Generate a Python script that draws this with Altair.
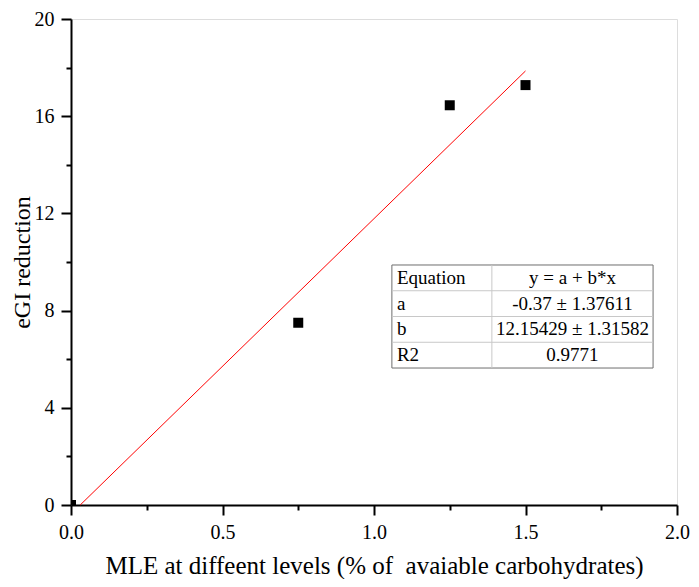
import altair as alt
import pandas as pd

# ---- data ----
x_vals = [0.0, 0.75, 1.25, 1.5]
y_vals = [0.0, 7.5, 16.45, 17.28]

fit_a = -0.37
fit_b = 12.15429
fit_x = [0.0304, 1.5]

table_labels = ["Equation", "a", "b", "R2"]
table_values = ["y = a + b*x", "-0.37 ± 1.37611", "12.15429 ± 1.31582", "0.9771"]

x_major = [0.0, 0.5, 1.0, 1.5, 2.0]
x_minor = [0.25, 0.75, 1.25, 1.75]
y_major = [0, 4, 8, 12, 16, 20]
y_minor = [2, 6, 10, 14, 18]

x_title = "MLE at diffeent levels (% of \u00a0avaiable carbohydrates)"
y_title = "eGI reduction"

FONT = "Liberation Serif"

# table placement (data units)
T_X0, T_XM, T_X1 = 1.059, 1.389, 1.921
T_Y0, ROW_H = 9.877, 1.06

pts = pd.DataFrame({"x": x_vals, "y": y_vals})
fit = pd.DataFrame({"x": fit_x})
tbl = pd.DataFrame({"label": table_labels, "value": table_values,
                    "row": list(range(len(table_labels)))})

xscale = alt.Scale(domain=[0, 2], nice=False, zero=False)
yscale = alt.Scale(domain=[0, 20], nice=False, zero=False)

axis_common = dict(grid=False, domainColor="black", tickColor="black",
                   domainWidth=2, tickWidth=2, labelColor="black",
                   titleColor="black", labelFont=FONT, titleFont=FONT,
                   labelFontSize=20, titleFontWeight="normal", labelFlush=False)

points = alt.Chart(pts).mark_square(size=100, color="black", opacity=1, clip=True).encode(
    x=alt.X("x:Q", scale=xscale,
            axis=alt.Axis(values=x_major, format=".1f", tickSize=10, labelPadding=7,
                          title=x_title, titleFontSize=25,
                          titlePadding=11, orient="bottom", **axis_common)),
    y=alt.Y("y:Q", scale=yscale,
            axis=alt.Axis(values=y_major, format="d", tickSize=10, labelPadding=7,
                          title=y_title, titleFontSize=24, titlePadding=0,
                          orient="left", **axis_common)),
)

line = alt.Chart(fit).transform_calculate(
    y=f"{fit_a} + {fit_b} * datum.x"
).mark_line(color="red", strokeWidth=1).encode(
    x=alt.X("x:Q", scale=xscale,
            axis=alt.Axis(values=x_minor, labels=False, domain=False, tickSize=5,
                          title="", orient="bottom", **axis_common)),
    y=alt.Y("y:Q", scale=yscale,
            axis=alt.Axis(values=y_minor, labels=False, domain=False, tickSize=5,
                          title="", orient="left", **axis_common)),
)

box = alt.Chart(tbl).transform_filter("datum.row == 0").mark_rect(
    fill=None, stroke="#6e6e6e", strokeWidth=1
).encode(
    x=alt.datum(T_X0, scale=xscale, axis=None),
    x2=alt.datum(T_X1),
    y=alt.datum(T_Y0, scale=yscale, axis=None),
    y2=alt.datum(T_Y0 - ROW_H * len(table_labels)),
)

hrules = alt.Chart(tbl).transform_filter("datum.row > 0").transform_calculate(
    ry=f"{T_Y0} - datum.row * {ROW_H}"
).mark_rule(color="#c8c8c8", strokeWidth=1).encode(
    x=alt.datum(T_X0, scale=xscale, axis=None),
    x2=alt.datum(T_X1),
    y=alt.Y("ry:Q", scale=yscale, axis=None),
)

vrule = alt.Chart(tbl).transform_filter("datum.row == 0").mark_rule(
    color="#c8c8c8", strokeWidth=1
).encode(
    x=alt.datum(T_XM, scale=xscale, axis=None),
    y=alt.datum(T_Y0, scale=yscale, axis=None),
    y2=alt.datum(T_Y0 - ROW_H * len(table_labels)),
)

text_base = alt.Chart(tbl).transform_calculate(
    ty=f"{T_Y0} - (datum.row + 0.5) * {ROW_H}"
)

text_left = text_base.mark_text(align="left", baseline="middle", dx=5,
                                font=FONT, fontSize=19, color="black").encode(
    x=alt.datum(T_X0, scale=xscale, axis=None),
    y=alt.Y("ty:Q", scale=yscale, axis=None),
    text="label:N",
)

text_right = text_base.mark_text(align="center", baseline="middle",
                                 font=FONT, fontSize=19, color="black").encode(
    x=alt.datum((T_XM + T_X1) / 2, scale=xscale, axis=None),
    y=alt.Y("ty:Q", scale=yscale, axis=None),
    text="value:N",
)

chart = alt.layer(points, line, box, hrules, vrule, text_left, text_right).resolve_axis(
    x="independent", y="independent"
).properties(
    width=606, height=486,
    autosize=alt.AutoSizeParams(type="none"),
    padding={"left": 63, "top": 11, "right": 14, "bottom": 74},
).configure_view(stroke=None).configure(background="white")

chart.save("out.html", embed_options={"renderer": "svg", "actions": False})
